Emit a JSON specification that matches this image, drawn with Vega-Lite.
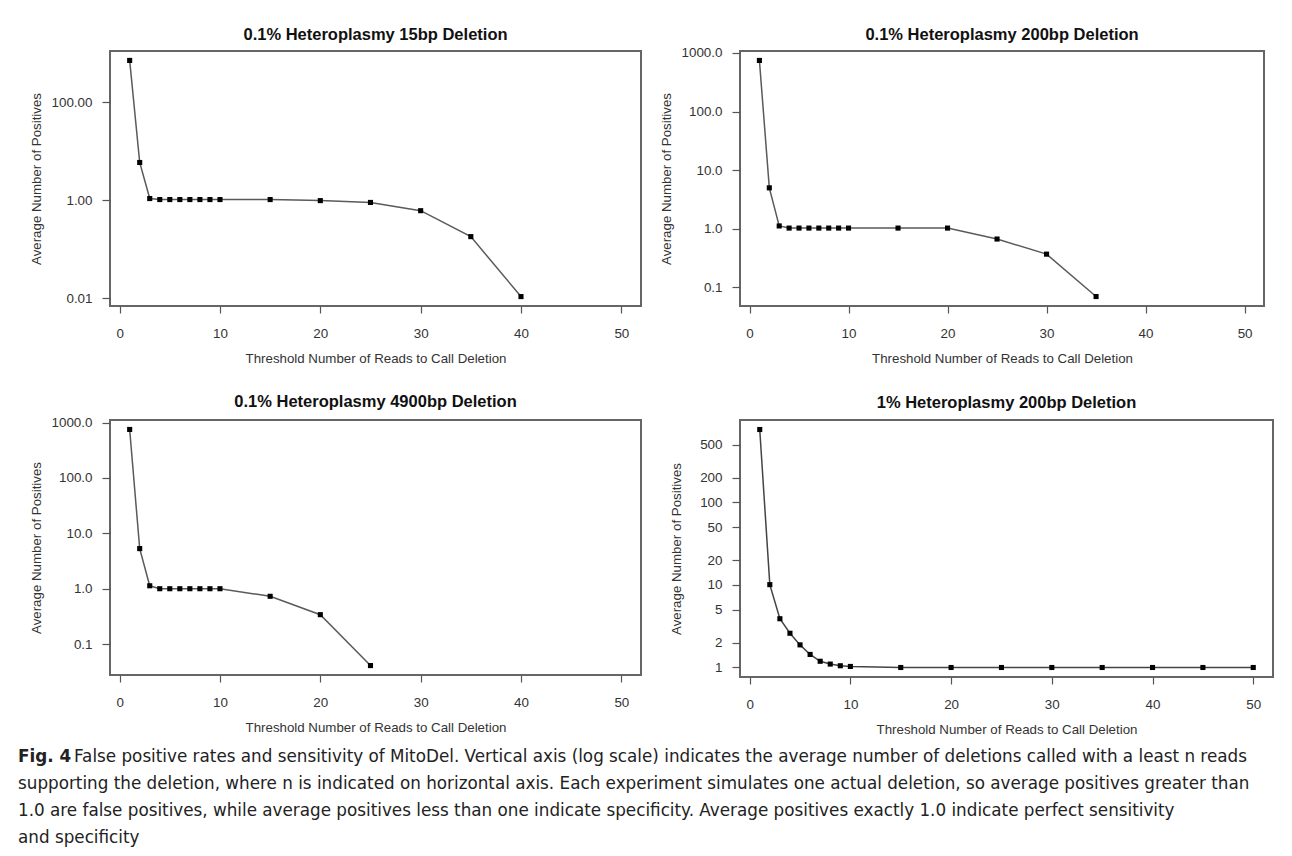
{
  "$schema": "https://vega.github.io/schema/vega-lite/v6.json",
  "background": "white",
  "padding": {"left": 18, "top": 25, "right": 0, "bottom": 0},
  "datasets": {
    "p15": [
      {"reads": 1, "avg": 720}, {"reads": 2, "avg": 5.9}, {"reads": 3, "avg": 1.08},
      {"reads": 4, "avg": 1.03}, {"reads": 5, "avg": 1.03}, {"reads": 6, "avg": 1.03},
      {"reads": 7, "avg": 1.03}, {"reads": 8, "avg": 1.03}, {"reads": 9, "avg": 1.03},
      {"reads": 10, "avg": 1.03}, {"reads": 15, "avg": 1.03}, {"reads": 20, "avg": 0.98},
      {"reads": 25, "avg": 0.9}, {"reads": 30, "avg": 0.61}, {"reads": 35, "avg": 0.18},
      {"reads": 40, "avg": 0.0107}
    ],
    "p200": [
      {"reads": 1, "avg": 745}, {"reads": 2, "avg": 5.0}, {"reads": 3, "avg": 1.12},
      {"reads": 4, "avg": 1.03}, {"reads": 5, "avg": 1.03}, {"reads": 6, "avg": 1.03},
      {"reads": 7, "avg": 1.03}, {"reads": 8, "avg": 1.03}, {"reads": 9, "avg": 1.03},
      {"reads": 10, "avg": 1.03}, {"reads": 15, "avg": 1.03}, {"reads": 20, "avg": 1.03},
      {"reads": 25, "avg": 0.67}, {"reads": 30, "avg": 0.37}, {"reads": 35, "avg": 0.07}
    ],
    "p4900": [
      {"reads": 1, "avg": 750}, {"reads": 2, "avg": 5.3}, {"reads": 3, "avg": 1.13},
      {"reads": 4, "avg": 1.0}, {"reads": 5, "avg": 1.0}, {"reads": 6, "avg": 1.0},
      {"reads": 7, "avg": 1.0}, {"reads": 8, "avg": 1.0}, {"reads": 9, "avg": 1.0},
      {"reads": 10, "avg": 1.0}, {"reads": 15, "avg": 0.73}, {"reads": 20, "avg": 0.34},
      {"reads": 25, "avg": 0.041}
    ],
    "p1pct": [
      {"reads": 1, "avg": 767}, {"reads": 2, "avg": 10.1}, {"reads": 3, "avg": 3.9},
      {"reads": 4, "avg": 2.6}, {"reads": 5, "avg": 1.88}, {"reads": 6, "avg": 1.44},
      {"reads": 7, "avg": 1.19}, {"reads": 8, "avg": 1.1}, {"reads": 9, "avg": 1.05},
      {"reads": 10, "avg": 1.03}, {"reads": 15, "avg": 1.0}, {"reads": 20, "avg": 1.0},
      {"reads": 25, "avg": 1.0}, {"reads": 30, "avg": 1.0}, {"reads": 35, "avg": 1.0},
      {"reads": 40, "avg": 1.0}, {"reads": 45, "avg": 1.0}, {"reads": 50, "avg": 1.0}
    ],
    "capFig": [{"line": 1, "text": "Fig. 4"}],
    "capFirst": [{"line": 1, "text": "False positive rates and sensitivity of MitoDel. Vertical axis (log scale) indicates the average number of deletions called with a least n reads"}],
    "capRest": [
      {"line": 2, "text": "supporting the deletion, where n is indicated on horizontal axis. Each experiment simulates one actual deletion, so average positives greater than"},
      {"line": 3, "text": "1.0 are false positives, while average positives less than one indicate specificity. Average positives exactly 1.0 indicate perfect sensitivity"},
      {"line": 4, "text": "and specificity"}
    ]
  },
  "spacing": 6,
  "vconcat": [
    {
      "spacing": 27,
      "vconcat": [
        {
          "bounds": "flush",
          "spacing": 99,
          "hconcat": [
            {
              "title": {"text": "0.1% Heteroplasmy 15bp Deletion", "offset": 8},
              "width": 531, "height": 255,
              "data": {"name": "p15"},
              "encoding": {
                "x": {"field": "reads", "type": "quantitative", "scale": {"domain": [-0.96, 51.96], "nice": false, "zero": false},
                      "axis": {"values": [0, 10, 20, 30, 40, 50], "title": "Threshold Number of Reads to Call Deletion"}},
                "y": {"field": "avg", "type": "quantitative", "scale": {"type": "log", "domain": [0.00687, 1122], "nice": false},
                      "axis": {"values": [0.01, 1, 100], "format": ".2f", "title": "Average Number of Positives", "titlePadding": 8}}
              },
              "layer": [
                {"mark": {"type": "line", "color": "#5a5a5a", "strokeWidth": 1.5}},
                {"mark": {"type": "point", "shape": "square", "filled": true, "color": "#000", "opacity": 1, "size": 26}}
              ]
            },
            {
              "title": {"text": "0.1% Heteroplasmy 200bp Deletion", "offset": 2},
              "width": 524, "height": 255,
              "data": {"name": "p200"},
              "encoding": {
                "x": {"field": "reads", "type": "quantitative", "scale": {"domain": [-0.96, 51.96], "nice": false, "zero": false},
                      "axis": {"values": [0, 10, 20, 30, 40, 50], "title": "Threshold Number of Reads to Call Deletion"}},
                "y": {"field": "avg", "type": "quantitative", "scale": {"type": "log", "domain": [0.0483, 1079], "nice": false},
                      "axis": {"values": [0.1, 1, 10, 100, 1000], "format": ".1f", "title": "Average Number of Positives", "titlePadding": 8}}
              },
              "layer": [
                {"mark": {"type": "line", "color": "#5a5a5a", "strokeWidth": 1.5}},
                {"mark": {"type": "point", "shape": "square", "filled": true, "color": "#000", "opacity": 1, "size": 26}}
              ]
            }
          ]
        },
        {
          "bounds": "flush",
          "spacing": 99,
          "hconcat": [
            {
              "title": {"text": "0.1% Heteroplasmy 4900bp Deletion", "offset": 5},
              "width": 531, "height": 255,
              "data": {"name": "p4900"},
              "encoding": {
                "x": {"field": "reads", "type": "quantitative", "scale": {"domain": [-0.96, 51.96], "nice": false, "zero": false},
                      "axis": {"values": [0, 10, 20, 30, 40, 50], "title": "Threshold Number of Reads to Call Deletion"}},
                "y": {"field": "avg", "type": "quantitative", "scale": {"type": "log", "domain": [0.0277, 1111], "nice": false},
                      "axis": {"values": [0.1, 1, 10, 100, 1000], "format": ".1f", "title": "Average Number of Positives", "titlePadding": 8}}
              },
              "layer": [
                {"mark": {"type": "line", "color": "#5a5a5a", "strokeWidth": 1.5}},
                {"mark": {"type": "point", "shape": "square", "filled": true, "color": "#000", "opacity": 1, "size": 26}}
              ]
            },
            {
              "title": {"text": "1% Heteroplasmy 200bp Deletion", "offset": 9},
              "width": 533, "height": 257,
              "data": {"name": "p1pct"},
              "encoding": {
                "x": {"field": "reads", "type": "quantitative", "scale": {"domain": [-0.96, 51.96], "nice": false, "zero": false},
                      "axis": {"values": [0, 10, 20, 30, 40, 50], "title": "Threshold Number of Reads to Call Deletion"}},
                "y": {"field": "avg", "type": "quantitative", "scale": {"type": "log", "domain": [0.767, 1000], "nice": false},
                      "axis": {"values": [1, 2, 5, 10, 20, 50, 100, 200, 500], "format": "d", "title": "Average Number of Positives", "titlePadding": 16}}
              },
              "layer": [
                {"mark": {"type": "line", "color": "#444", "strokeWidth": 1.5}},
                {"mark": {"type": "point", "shape": "square", "filled": true, "color": "#000", "opacity": 1, "size": 26}}
              ]
            }
          ]
        }
      ]
    },
    {
      "width": 1100, "height": 108,
      "view": {"stroke": null},
      "encoding": {
        "y": {"field": "line", "type": "ordinal", "axis": null},
        "text": {"field": "text"}
      },
      "layer": [
        {"data": {"name": "capFig"}, "mark": {"type": "text", "align": "left", "baseline": "middle", "x": 0, "dx": -92, "font": "DejaVu Sans", "fontSize": 16.8, "fontWeight": "bold", "color": "#222"}},
        {"data": {"name": "capFirst"}, "mark": {"type": "text", "align": "left", "baseline": "middle", "x": 0, "dx": -36, "font": "DejaVu Sans", "fontSize": 16.8, "color": "#222"}},
        {"data": {"name": "capRest"}, "mark": {"type": "text", "align": "left", "baseline": "middle", "x": 0, "dx": -92, "font": "DejaVu Sans", "fontSize": 16.8, "color": "#222"}}
      ]
    }
  ],
  "config": {
    "view": {"stroke": "#666", "strokeWidth": 2},
    "font": "Liberation Sans",
    "title": {"font": "Liberation Sans", "fontSize": 16.5, "fontWeight": "bold", "color": "#111", "anchor": "middle", "frame": "group"},
    "axis": {
      "domain": false, "grid": false,
      "tickColor": "#555", "tickWidth": 1.2,
      "labelFont": "Liberation Sans", "labelFontSize": 13.4, "labelColor": "#333",
      "titleFont": "Liberation Sans", "titleFontSize": 13.3, "titleFontWeight": "normal", "titleColor": "#333"
    },
    "axisX": {"tickSize": 7, "labelPadding": 13, "titlePadding": 12},
    "axisY": {"tickSize": 8, "labelPadding": 10}
  }
}
